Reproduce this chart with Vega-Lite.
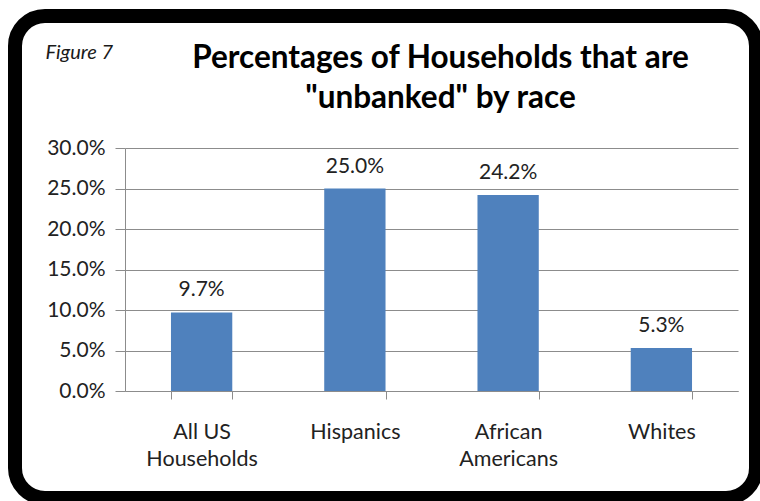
{
  "$schema": "https://vega.github.io/schema/vega-lite/v6.json",
  "autosize": {"type": "none"},
  "padding": {"left": 15, "top": 16, "right": 4, "bottom": 3},
  "width": 741,
  "height": 482,
  "background": "white",
  "title": {
    "text": ["Percentages of Households that are", "\"unbanked\" by race"],
    "anchor": "middle",
    "frame": "group",
    "offset": -123,
    "dx": 55,
    "baseline": "alphabetic",
    "font": "Lato",
    "fontSize": 31.5,
    "fontWeight": "bold",
    "color": "#000000",
    "lineHeight": 40
  },
  "data": {
    "values": [
      {"group": "All US Households", "pct": 0.097},
      {"group": "Hispanics", "pct": 0.25},
      {"group": "African Americans", "pct": 0.242},
      {"group": "Whites", "pct": 0.053}
    ]
  },
  "encoding": {
    "x": {
      "field": "group",
      "type": "nominal",
      "sort": null,
      "scale": {"range": [110, 723], "paddingInner": 0.6, "paddingOuter": 0.3},
      "axis": {
        "title": null,
        "offset": -107,
        "tickBand": "extent",
        "tickSize": 8,
        "labelPadding": 22,
        "labelAngle": 0,
        "labelFont": "Lato",
        "labelFontSize": 21.5,
        "labelLineHeight": 27,
        "labelColor": "#222222",
        "domainColor": "#8c8c8c",
        "tickColor": "#8c8c8c",
        "grid": false,
        "labelExpr": "datum.value == 'All US Households' ? ['All US', 'Households'] : datum.value == 'African Americans' ? ['African', 'Americans'] : datum.label"
      }
    },
    "y": {
      "field": "pct",
      "type": "quantitative",
      "scale": {"domain": [0, 0.3], "range": [375, 132], "nice": false, "zero": true},
      "axis": {
        "title": "Figure 7",
        "titleAngle": 0,
        "titleX": -80,
        "titleY": 42,
        "titleAlign": "left",
        "titleBaseline": "alphabetic",
        "titleFont": "Lato",
        "titleFontStyle": "italic",
        "titleFontWeight": "normal",
        "titleFontSize": 20,
        "titleColor": "#1a1a1a",
        "offset": -110,
        "format": ".1%",
        "values": [0, 0.05, 0.1, 0.15, 0.2, 0.25, 0.3],
        "tickSize": 10,
        "labelPadding": 10,
        "labelFont": "Lato",
        "labelFontSize": 21,
        "labelColor": "#222222",
        "grid": true,
        "gridColor": "#8c8c8c",
        "domainColor": "#8c8c8c",
        "tickColor": "#8c8c8c"
      }
    }
  },
  "layer": [
    {"mark": {"type": "bar", "color": "#4F81BD"}},
    {
      "mark": {"type": "text", "dy": -16, "baseline": "alphabetic", "font": "Lato", "fontSize": 21, "color": "#222222"},
      "encoding": {"text": {"field": "pct", "type": "quantitative", "format": ".1%"}}
    }
  ],
  "config": {
    "view": {"stroke": "black", "strokeWidth": 14, "cornerRadius": 30, "fill": "white"}
  }
}
